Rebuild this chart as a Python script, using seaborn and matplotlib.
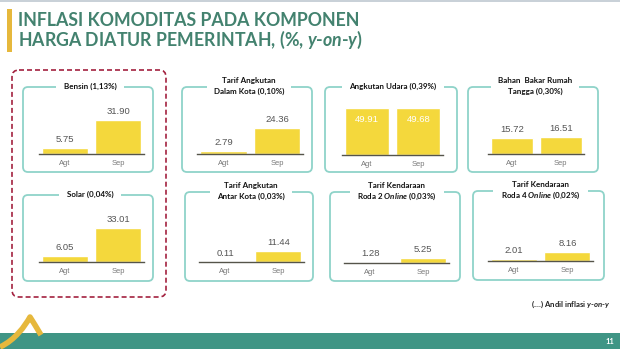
import matplotlib
matplotlib.use("Agg")
import matplotlib.pyplot as plt
import seaborn as sns
import pandas as pd
from matplotlib.patches import FancyBboxPatch, Rectangle, PathPatch
from matplotlib.path import Path

sns.set_theme(style="white")
plt.rcParams["font.family"] = ["Lato", "DejaVu Sans"]
plt.rcParams["mathtext.fontset"] = "custom"
plt.rcParams["mathtext.it"] = "Lato:italic:bold"
plt.rcParams["mathtext.rm"] = "Lato:bold"
plt.rcParams["mathtext.bf"] = "Lato:bold"

# ---------------- data ----------------
months = ["Agt", "Sep"]
bensin = [5.75, 31.90]
solar = [6.05, 33.01]
angkutan_dalam_kota = [2.79, 24.36]
angkutan_udara = [49.91, 49.68]
bahan_bakar_rt = [15.72, 16.51]
angkutan_antar_kota = [0.11, 11.44]
roda2_online = [1.28, 5.25]
roda4_online = [2.01, 8.16]

panel_titles = [
    "Bensin (1,13%)",
    "Solar (0,04%)",
    "Tarif Angkutan\nDalam Kota (0,10%)",
    "Angkutan Udara (0,39%)",
    "Bahan  Bakar Rumah\nTangga (0,30%)",
    "Tarif Angkutan\nAntar Kota (0,03%)",
    "Tarif Kendaraan\nRoda 2 $Online$ (0,03%)",
    "Tarif Kendaraan\nRoda 4 $Online$ (0,02%)",
]
panel_values = [bensin, solar, angkutan_dalam_kota, angkutan_udara,
                bahan_bakar_rt, angkutan_antar_kota, roda2_online, roda4_online]

title_line1 = "INFLASI KOMODITAS PADA KOMPONEN"
title_line2 = "HARGA DIATUR PEMERINTAH, (%, $y$-$on$-$y$)"
note_text = "(....) Andil inflasi $y$-$on$-$y$"
page_no = "11"

# ---------------- layout (pixels) ----------------
W, H = 620, 349
# box (x0, y0, x1, y1), axis x0, axis x1, baseline y, ymax
layout = [
    ((23, 87, 153, 172), 39, 144, 154, 49),
    ((23, 195, 153, 281), 39, 144, 262, 50.5),
    ((182, 87, 312, 172), 197, 303, 154, 49),
    ((325, 87, 457, 172), 342, 443, 155, 55),
    ((468, 87, 598, 172), 488, 584, 154, 51),
    ((185, 192, 313, 281), 199, 304, 262, 54),
    ((330, 192, 460, 281), 344, 449, 263, 54),
    ((473, 191, 604, 280), 488, 593, 261, 48),
]
AX_H = 52

TEAL_TXT = "#43826f"
BOX_C = "#8fd3c9"
BAR_C = "#f4d83c"
RED = "#a3213f"
GOLD = "#e6b83c"
BAND = "#3f9585"

fig = plt.figure(figsize=(W / 100, H / 100), dpi=100)
fig.patch.set_facecolor("white")
bg = fig.add_axes([0, 0, 1, 1])
bg.set_xlim(0, W)
bg.set_ylim(H, 0)
bg.axis("off")

# thin top rule
bg.add_patch(Rectangle((0, 0), W, 1.5, color="#c9d1d8", lw=0))

# title
bg.add_patch(Rectangle((7, 9), 5, 43, color=GOLD, lw=0))
bg.text(18, 25.5, title_line1, fontsize=12.8, color=TEAL_TXT, weight="bold", va="baseline")
bg.text(18, 45.5, title_line2, fontsize=12.8, color=TEAL_TXT, weight="bold", va="baseline")

# red dashed group box
bg.add_patch(FancyBboxPatch((12, 70), 154, 227, boxstyle="round,pad=0,rounding_size=7",
                            fill=False, ec=RED, lw=1.2, ls=(0, (3, 1.8))))

# bottom band and decorative arc
bg.add_patch(Rectangle((0, 333), W, 16, color=BAND, lw=0))
arc = Path([(0, 347), (15, 340), (25, 326), (30, 317), (33, 322), (37, 328), (41, 335)],
           [Path.MOVETO, Path.CURVE4, Path.CURVE4, Path.CURVE4, Path.CURVE4, Path.CURVE4, Path.CURVE4])
bg.add_patch(PathPatch(arc, fill=False, ec=GOLD, lw=4, capstyle="butt", joinstyle="round"))
bg.text(614, 342, page_no, ha="right", va="center", color="white", fontsize=5.5, weight="bold")
bg.text(611, 304, note_text, ha="right", va="center", color="#222222", fontsize=5.6, weight="bold")

for title, vals, (box, ax0, ax1, base, ymax) in zip(panel_titles, panel_values, layout):
    x0, y0, x1, y1 = box
    bg.add_patch(FancyBboxPatch((x0, y0), x1 - x0, y1 - y0, boxstyle="round,pad=0,rounding_size=5",
                                fill=False, ec=BOX_C, lw=1.3, zorder=1))
    lines = title.split("\n")
    n = len(lines)
    for k, line in enumerate(lines):
        yy = y0 + (k - (n - 1) / 2) * 10.5 - 1
        kw = dict(ha="center", va="center", fontsize=5.8, weight="bold")
        # white mask that breaks the panel border behind the title
        bg.text((x0 + x1) / 2 + 2, yy, line, color="white", zorder=2,
                bbox=dict(boxstyle="square,pad=0.9", fc="white", ec="none"), **kw)
        bg.text((x0 + x1) / 2 + 2, yy, line, color="#111111", zorder=3, **kw)

    ax = fig.add_axes([ax0 / W, 1 - base / H, (ax1 - ax0) / W, AX_H / H])
    ax.patch.set_alpha(0)
    df = pd.DataFrame({"bulan": months, "nilai": vals})
    sns.barplot(data=df, x="bulan", y="nilai", ax=ax, color=BAR_C, saturation=1, width=0.86)
    ax.set_xlim(-0.49, 1.48)
    ax.set_ylim(0, ymax)
    ax.set_xlabel("")
    ax.set_ylabel("")
    ax.set_yticks([])
    for s in ["top", "left", "right"]:
        ax.spines[s].set_visible(False)
    ax.spines["bottom"].set_color("#55544a")
    ax.spines["bottom"].set_linewidth(1.0)
    ax.tick_params(axis="x", length=0, pad=4.5, labelsize=5.4, labelcolor="#777777")
    for lab in ax.get_xticklabels():
        lab.set_fontfamily("Liberation Sans")
    for i, v in enumerate(vals):
        inside = v / ymax > 0.8
        ax.annotate(f"{v:.2f}", (i, v), xytext=(0, -5 if inside else 3), textcoords="offset points",
                    ha="center", va="top" if inside else "bottom", fontsize=6.8,
                    color="white" if inside else "#555555", family="Liberation Sans",
                    annotation_clip=False)

fig.savefig("out.png", dpi=100)
